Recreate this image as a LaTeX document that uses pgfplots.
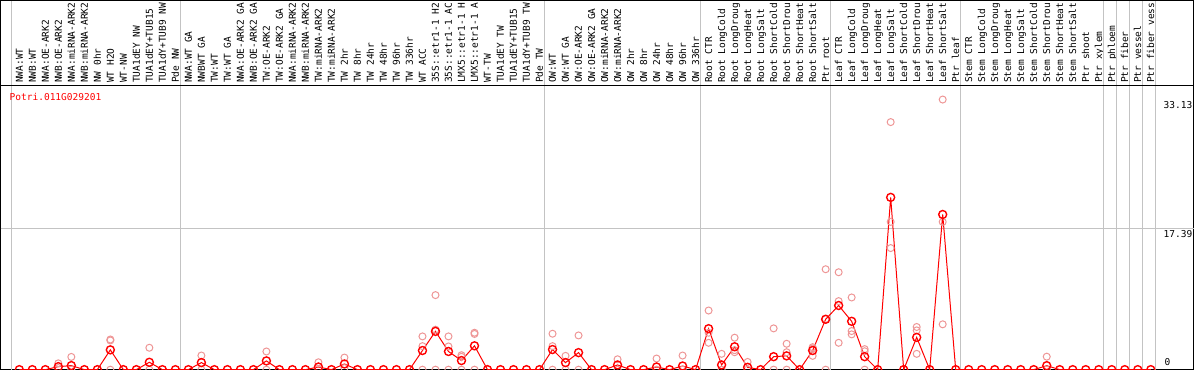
\documentclass[border=0pt]{standalone}
\usepackage{fontspec}
\usepackage{pgfplots}
\pgfplotsset{compat=1.18}
\usepackage{pgfplotstable}
\newfontfamily\mono{DejaVu Sans Mono}
\definecolor{gridgray}{RGB}{195,195,195}
\definecolor{reppink}{RGB}{238,150,150}
\definecolor{meanred}{RGB}{255,0,0}
\newcommand{\lblfont}{\mono\fontsize{9.5}{10}\selectfont}

\pgfplotstableread{
x y
0 0
1 0
2 0
3 0.37
4 0.5
5 0
6 0
7 2.44
8 0
9 0
10 0.91
11 0
12 0
13 0
14 0.87
15 0
16 0
17 0
18 0
19 1.08
20 0
21 0
22 0
23 0.33
24 0
25 0.7
26 0
27 0
28 0
29 0
30 0
31 2.36
32 4.72
33 2.24
34 1.12
35 2.94
36 0
37 0
38 0
39 0
40 0
41 2.48
42 0.87
43 2.1
44 0
45 0
46 0.58
47 0
48 0
49 0.33
50 0
51 0.45
52 0
53 5.05
54 0.58
55 2.82
56 0.29
57 0
58 1.6
59 1.7
60 0
61 2.36
62 6.21
63 7.91
64 5.96
65 1.6
66 0
67 21.24
68 0
69 3.98
70 0
71 19.13
72 0
73 0
74 0
75 0
76 0
77 0
78 0
79 0.49
80 0
81 0
82 0
83 0
84 0
85 0
86 0
87 0
}\means

\pgfplotstableread{
x y
3 0.78
3 0.2
4 1.57
4 0
7 3.72
7 3.6
7 0
10 2.7
10 0
14 1.74
14 0
19 2.24
19 0
23 0.91
23 0.1
25 1.49
25 0.2
31 4.1
31 2.9
31 0
32 9.19
32 4.93
32 0
33 4.1
33 2.86
33 0
34 1.78
34 1.58
34 0
35 4.55
35 4.4
35 0
41 4.43
41 2.9
41 0
42 1.7
42 0
43 4.22
43 0
46 1.28
46 0
49 1.37
49 0
51 1.74
51 0
53 7.29
53 4.55
53 3.31
54 1.95
54 0
55 3.94
55 2.4
55 2.15
56 0.95
56 0
58 5.09
58 0
59 3.19
59 2.15
59 0
61 2.77
61 2.61
61 1.7
62 12.38
62 6.25
62 0
63 12.01
63 8.45
63 3.31
64 8.9
64 4.76
64 4.35
65 2.53
65 2.27
65 0
67 30.52
67 18.22
67 14.99
69 5.26
69 4.84
69 1.95
71 33.3
71 18.22
71 5.59
79 1.6
79 0
}\reps

\begin{document}
\begin{tikzpicture}
\begin{axis}[
  x=13pt, y=8.108pt,
  xmin=-1.446, xmax=90.285, ymin=0, ymax=35.03,
  axis line style={line width=1pt, black},
  xtick={0,...,87},
  xticklabels={NWA:WT,NWB:WT,NWA:OE-ARK2,NWB:OE-ARK2,NWA:miRNA-ARK2,NWB:miRNA-ARK2,NW 0hr,WT H2O,WT-NW,TUA1dEY NW,TUA1dEY+TUB15,TUA1dY+TUB9 NW,Pde NW,
    NWA:WT GA,NWBWT GA,TW:WT,TW:WT GA,NWA:OE-ARK2 GA,NWB:OE-ARK2 GA,TW:OE-ARK2,TW:OE-ARK2 GA,NWA:miRNA-ARK2,NWB:miRNA-ARK2,TW:miRNA-ARK2,TW:miRNA-ARK2,TW 2hr,TW 8hr,TW 24hr,TW 48hr,TW 96hr,TW 336hr,WT ACC,35S::etr1-1 H2,35S::etr1-1 AC,LMX5::etr1-1 H,LMX5::etr1-1 A,WT-TW,TUA1dEY TW,TUA1dEY+TUB15,TUA1dY+TUB9 TW,Pde TW,
    OW:WT,OW:WT GA,OW:OE-ARK2,OW:OE-ARK2 GA,OW:miRNA-ARK2,OW:miRNA-ARK2,OW 2hr,OW 8hr,OW 24hr,OW 48hr,OW 96hr,OW 336hr,
    Root CTR,Root LongCold,Root LongDroug,Root LongHeat,Root LongSalt,Root ShortCold,Root ShortDrou,Root ShortHeat,Root ShortSalt,Ptr root,
    Leaf CTR,Leaf LongCold,Leaf LongDroug,Leaf LongHeat,Leaf LongSalt,Leaf ShortCold,Leaf ShortDrou,Leaf ShortHeat,Leaf ShortSalt,Ptr leaf,
    Stem CTR,Stem LongCold,Stem LongDroug,Stem LongHeat,Stem LongSalt,Stem ShortCold,Stem ShortDrou,Stem ShortHeat,Stem ShortSalt,Ptr shoot,Ptr xylem,Ptr phloem,Ptr fiber,Ptr vessel,Ptr fiber vess},
  xticklabel pos=right,
  xticklabel style={rotate=90, anchor=west, inner xsep=2.5pt, inner ysep=0pt, text height=6.9pt, text depth=0pt, font=\lblfont},
  major tick length=0pt,
  ytick=\empty,
  clip mode=individual,
  clip marker paths=true,
]
\coordinate (ll) at (axis cs:-1.446,0);
\coordinate (ur) at (axis cs:90.285,45.51);
\draw[gridgray, line width=1pt] (axis cs:-0.62,0) -- (axis cs:-0.62,45.51);
\draw[gridgray, line width=1pt] (axis cs:12.38,0) -- (axis cs:12.38,45.51);
\draw[gridgray, line width=1pt] (axis cs:40.38,0) -- (axis cs:40.38,45.51);
\draw[gridgray, line width=1pt] (axis cs:52.38,0) -- (axis cs:52.38,45.51);
\draw[gridgray, line width=1pt] (axis cs:62.38,0) -- (axis cs:62.38,45.51);
\draw[gridgray, line width=1pt] (axis cs:72.38,0) -- (axis cs:72.38,45.51);
\draw[gridgray, line width=1pt] (axis cs:83.38,0) -- (axis cs:83.38,45.51);
\draw[gridgray, line width=1pt] (axis cs:84.38,0) -- (axis cs:84.38,45.51);
\draw[gridgray, line width=1pt] (axis cs:85.38,0) -- (axis cs:85.38,45.51);
\draw[gridgray, line width=1pt] (axis cs:86.38,0) -- (axis cs:86.38,45.51);
\draw[gridgray, line width=1pt] (axis cs:87.38,0) -- (axis cs:87.38,45.51);
\draw[gridgray, line width=1pt] (axis cs:-1.446,17.39) -- (axis cs:90.285,17.39);
\draw[black, line width=1pt] (axis cs:-1.446,35.03) rectangle (axis cs:90.285,45.51);

\addplot[meanred, line width=1pt, mark=none] table {\means};
\addplot[only marks, mark=o, mark size=3.5pt, reppink, line width=1pt] table {\reps};
\addplot[only marks, mark=o, mark size=4pt, meanred, line width=1.4pt] table {\means};

\node[anchor=north west, inner sep=0pt, text=red, font=\lblfont, xshift=9pt, yshift=-8pt] at (axis cs:-1.446,35.03) {Potri.011G029201};
\node[anchor=north west, inner sep=0pt, font=\lblfont] at (axis cs:87.98,33.13) {33.13};
\node[anchor=north west, inner sep=0pt, font=\lblfont, yshift=-1.5pt] at (axis cs:87.98,17.39) {17.39};
\node[anchor=base west, inner sep=0pt, font=\lblfont] at (axis cs:88.05,0.49) {0};
\end{axis}
\pgfresetboundingbox
\path[use as bounding box] ([shift={(-0.5pt,-0.5pt)}]ll) rectangle ([shift={(0.5pt,0.5pt)}]ur);
\end{tikzpicture}
\end{document}
